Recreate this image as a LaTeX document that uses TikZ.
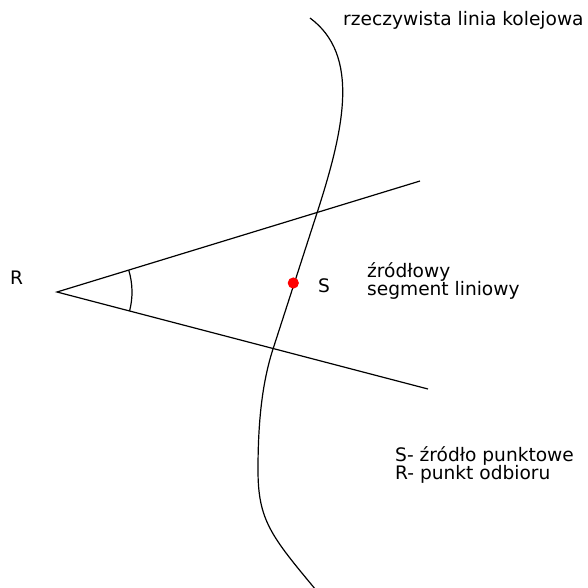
\documentclass[tikz,border=0pt]{standalone}
\usepackage{fontspec}
\setmainfont{DejaVu Sans}
\usetikzlibrary{calc}
\begin{document}
\begin{tikzpicture}[x=1pt,y=-1pt,
  lbl/.style={font=\fontsize{18.6}{20}\selectfont, inner sep=0pt, anchor=base west, text=black},
  ln/.style={line width=1.2pt, black}]
\useasboundingbox[fill=white] (0,0) rectangle (588,587);
% rail line
\coordinate (c0) at (310,18);
\coordinate (c1) at (317,213);
\coordinate (c2) at (273,349);
\coordinate (c3) at (258,470);
\coordinate (c4) at (316,590);
\draw[ln] (c0) .. controls (360,55) and (344.7,127.4) .. (c1)
  .. controls (303.1,255.8) and (286.9,306.2) .. (c2)
  .. controls (260.7,387) and (258,430) .. (c3)
  .. controls (258,520) and (271,536) .. (c4);
% rays
\coordinate (R) at (57,292);
\coordinate (U) at (420,181);
\coordinate (L) at (428,389);
\draw[ln] (U) -- (R) -- (L);
% angle arc
\draw[ln] ($(R)+(-14.5:75pt)$) arc[start angle=-14.5, end angle=16.86, radius=75pt];
% source point
\fill[red] (293.3,283) circle[radius=5.6];
% labels
\node[lbl] (rlab) at (10,284) {R};
\node[lbl] (slab) at (318,292) {S};
\node[lbl] (seg1) at (367,277) {źródłowy};
\node[lbl] (seg2) at (367,295) {segment liniowy};
\node[lbl] (rail) at (343,25) {rzeczywista linia kolejowa};
\node[lbl] (leg1) at (395,461) {S- źródło punktowe};
\node[lbl] (leg2) at (395,479) {R- punkt odbioru};
\end{tikzpicture}
\end{document}
